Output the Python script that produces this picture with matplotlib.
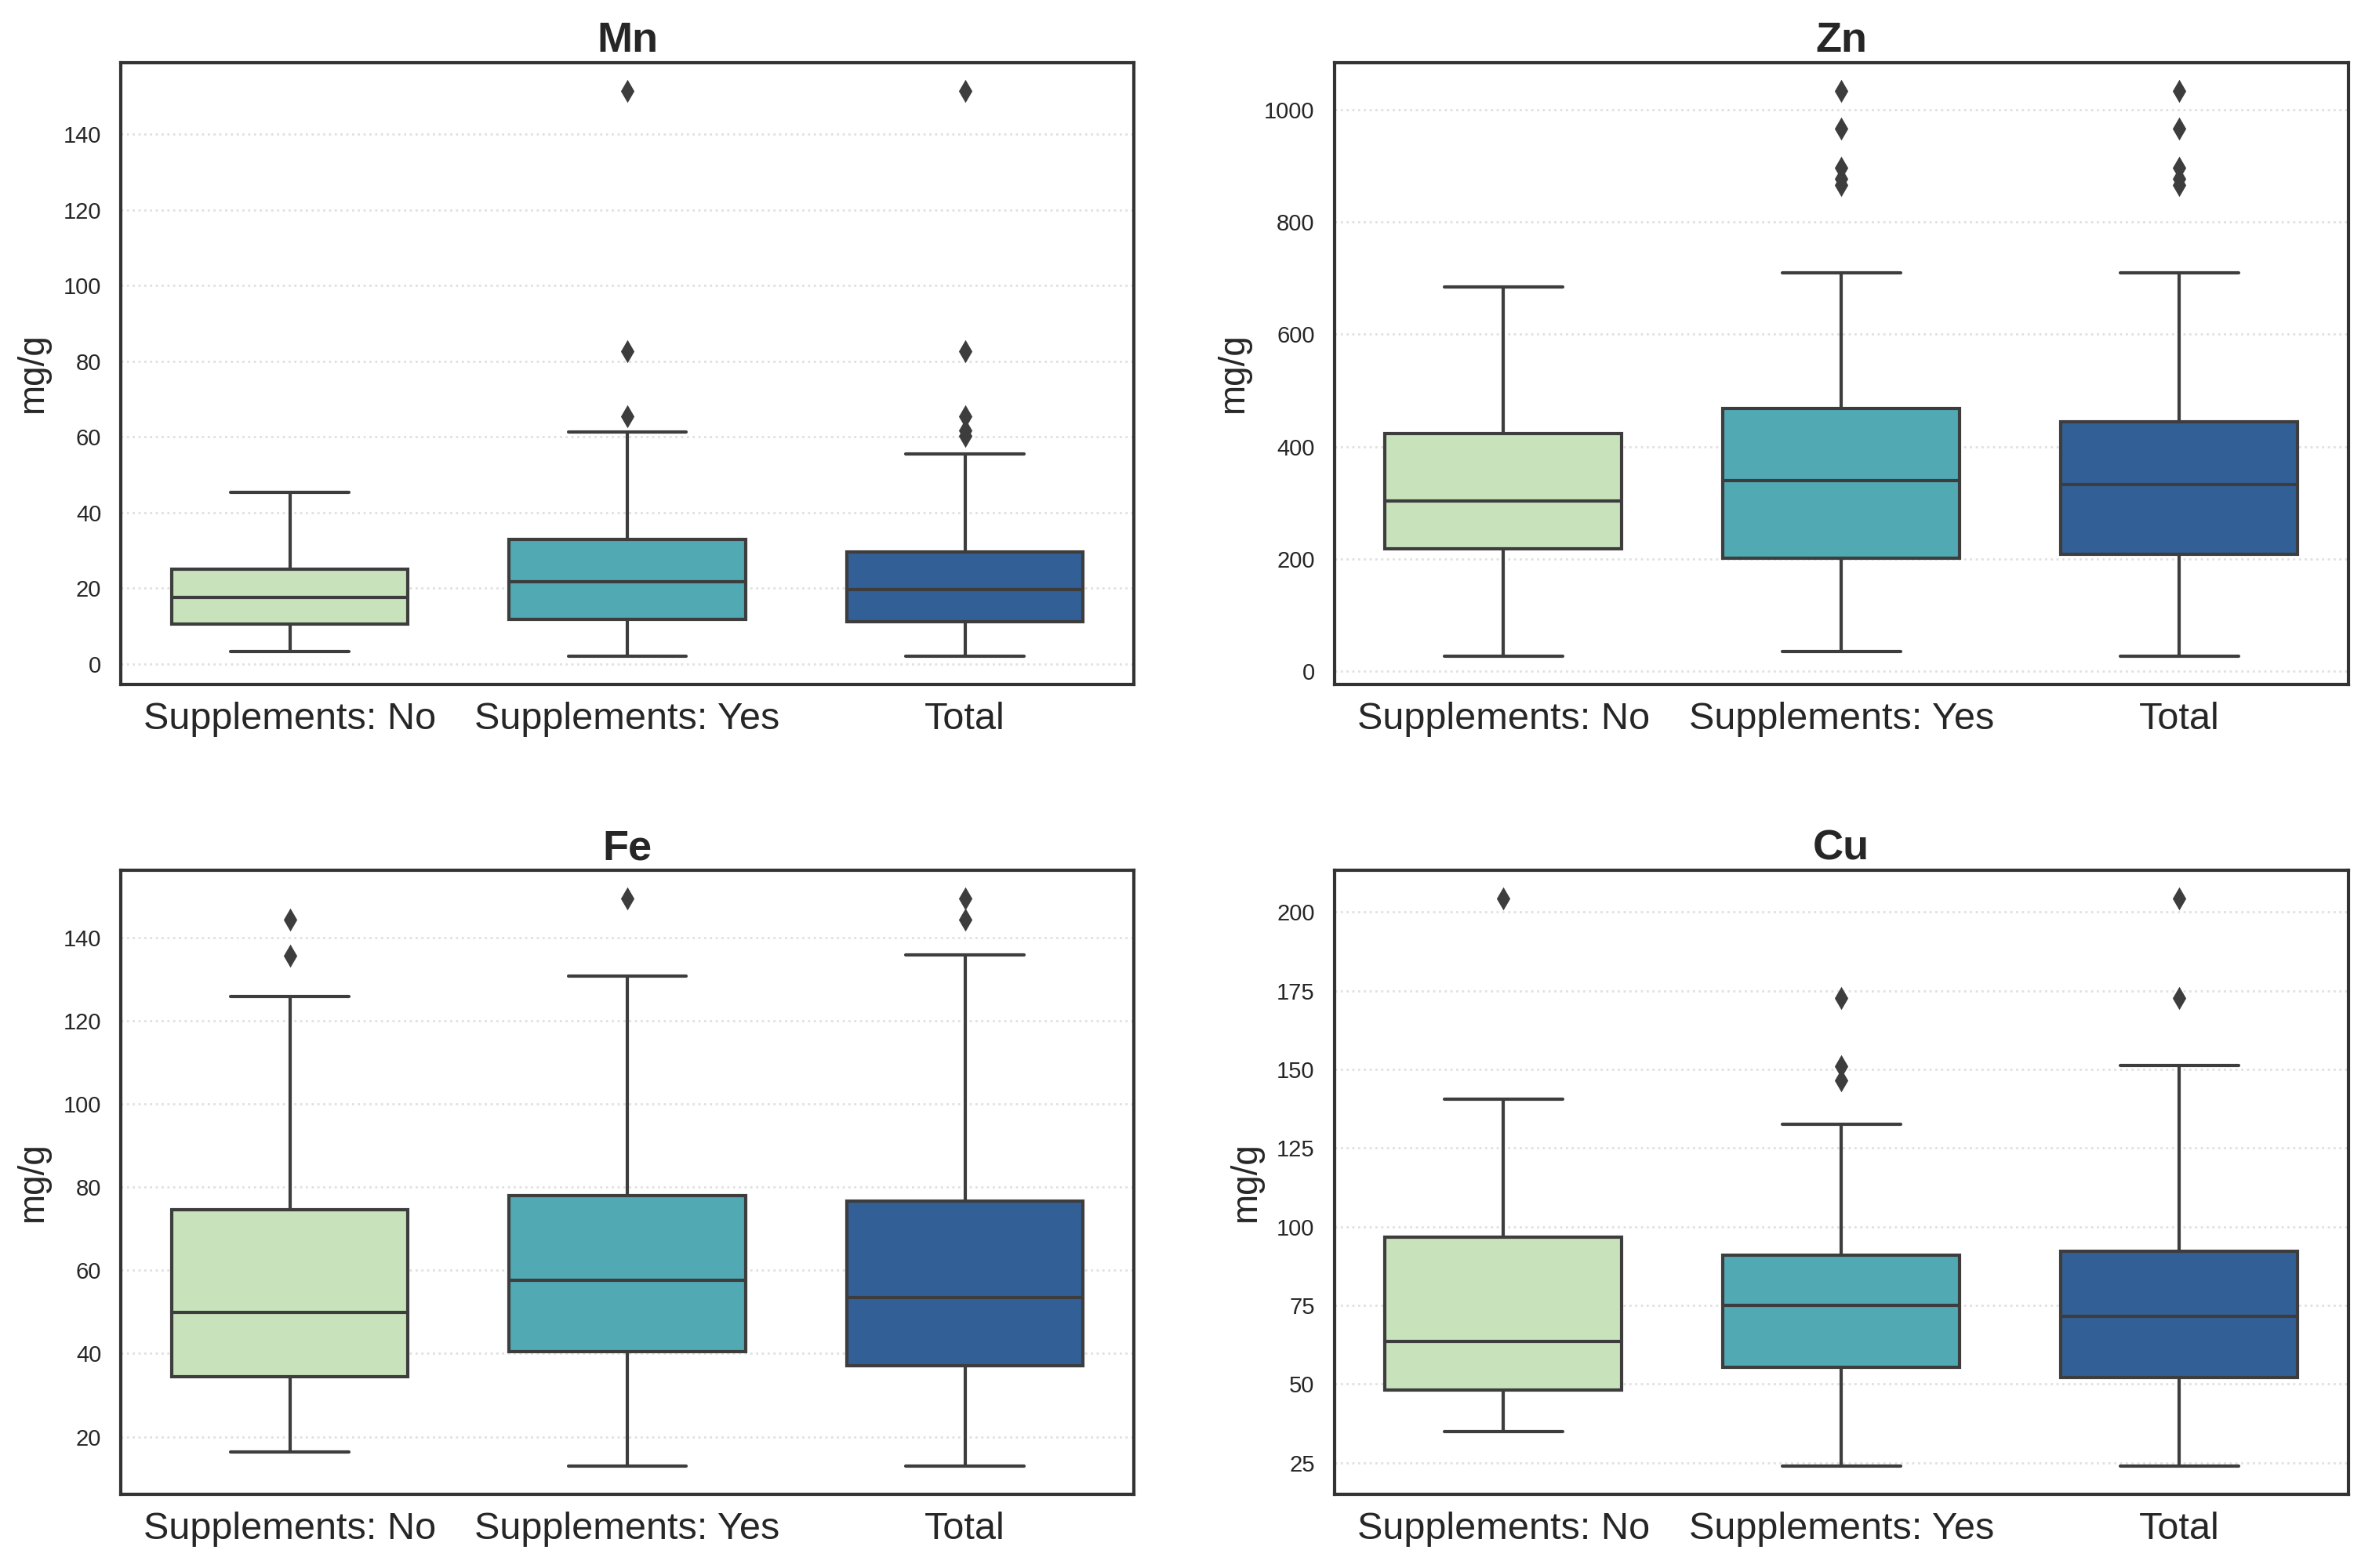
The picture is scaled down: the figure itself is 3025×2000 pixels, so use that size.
"""
Boxplots of trace element concentrations (Mn, Zn, Fe, Cu) by supplement use.
"""

import matplotlib
matplotlib.use("Agg")
import matplotlib.pyplot as plt
from matplotlib.ticker import MultipleLocator
import seaborn as sns

groups = ["Supplements: No", "Supplements: Yes", "Total"]

# box stats: [No, Yes, Total]
mn_low = [3.2, 2.0, 2.0]
mn_q1 = [10.5, 11.8, 11.2]
mn_med = [17.5, 21.6, 19.6]
mn_q3 = [25.1, 32.8, 29.6]
mn_high = [45.3, 61.4, 55.4]
mn_out = [[], [65.4, 82.7, 151.5], [60.3, 61.8, 65.4, 82.7, 151.5]]

zn_low = [27, 35, 27]
zn_q1 = [218, 202, 209]
zn_med = [303, 339, 332]
zn_q3 = [423, 468, 444]
zn_high = [684, 710, 710]
zn_out = [[], [865, 877, 896, 966, 1033], [865, 877, 896, 966, 1033]]

fe_low = [16.4, 13.0, 13.0]
fe_q1 = [34.5, 40.5, 37.1]
fe_med = [49.9, 57.6, 53.5]
fe_q3 = [74.5, 77.9, 76.7]
fe_high = [125.8, 130.6, 135.8]
fe_out = [[135.6, 144.2], [149.3], [144.2, 149.3]]

cu_low = [34.9, 24.0, 24.0]
cu_q1 = [48.0, 55.3, 52.1]
cu_med = [63.6, 75.1, 71.6]
cu_q3 = [96.6, 91.0, 92.3]
cu_high = [140.5, 132.5, 151.3]
cu_out = [[204.3], [146.5, 151.0, 172.6], [172.6, 204.3]]

titles = ["Mn", "Zn", "Fe", "Cu"]
tick_steps = [20, 200, 20, 25]


def make_stats(low, q1, med, q3, high, out):
    return [dict(whislo=low[i], q1=q1[i], med=med[i], q3=q3[i], whishi=high[i], fliers=out[i])
            for i in range(len(groups))]


def main():
    sns.set_style("white")
    plt.rcParams["font.family"] = ["Liberation Sans", "DejaVu Sans"]

    colors = sns.color_palette("YlGnBu", 3, desat=0.75)
    line_c = "#3d3d3d"

    panels = [
        make_stats(mn_low, mn_q1, mn_med, mn_q3, mn_high, mn_out),
        make_stats(zn_low, zn_q1, zn_med, zn_q3, zn_high, zn_out),
        make_stats(fe_low, fe_q1, fe_med, fe_q3, fe_high, fe_out),
        make_stats(cu_low, cu_q1, cu_med, cu_q3, cu_high, cu_out),
    ]

    fig = plt.figure(figsize=(15.125, 10), dpi=200)
    rects = [
        [0.051, 0.5635, 0.427, 0.3965],
        [0.5625, 0.5635, 0.4275, 0.3965],
        [0.051, 0.047, 0.427, 0.398],
        [0.5625, 0.047, 0.4275, 0.398],
    ]

    for k, stats in enumerate(panels):
        ax = fig.add_axes(rects[k])
        ax.yaxis.grid(True, linestyle=":", color="#e0e0e0", linewidth=1.0)
        ax.set_axisbelow(True)
        bp = ax.bxp(stats, positions=range(3), widths=0.7, patch_artist=True,
                    capwidths=0.35,
                    boxprops=dict(edgecolor=line_c, linewidth=1.5),
                    whiskerprops=dict(color=line_c, linewidth=1.5),
                    capprops=dict(color=line_c, linewidth=1.5),
                    medianprops=dict(color=line_c, linewidth=1.5),
                    flierprops=dict(marker="d", markerfacecolor=line_c, markeredgecolor=line_c,
                                    markersize=6, linestyle="none"))
        for patch, c in zip(bp["boxes"], colors):
            patch.set_facecolor(c)
        ax.set_xlim(-0.5, 2.5)
        ax.set_xticks(range(3))
        ax.set_xticklabels(groups, fontsize=17.5)
        ax.yaxis.set_major_locator(MultipleLocator(tick_steps[k]))
        ax.tick_params(axis="y", labelsize=10.5, length=0, pad=9, colors="#262626")
        ax.tick_params(axis="x", length=0, pad=8, colors="#262626")
        ax.set_ylabel("mg/g", fontsize=16.5, color="#262626", labelpad=6)
        ax.set_title(titles[k], fontsize=19.5, fontweight="bold", color="#262626", pad=5)
        for s in ax.spines.values():
            s.set_color("#333333")
            s.set_linewidth(1.5)

    fig.savefig("out.png", dpi=200)


if __name__ == "__main__":
    main()
